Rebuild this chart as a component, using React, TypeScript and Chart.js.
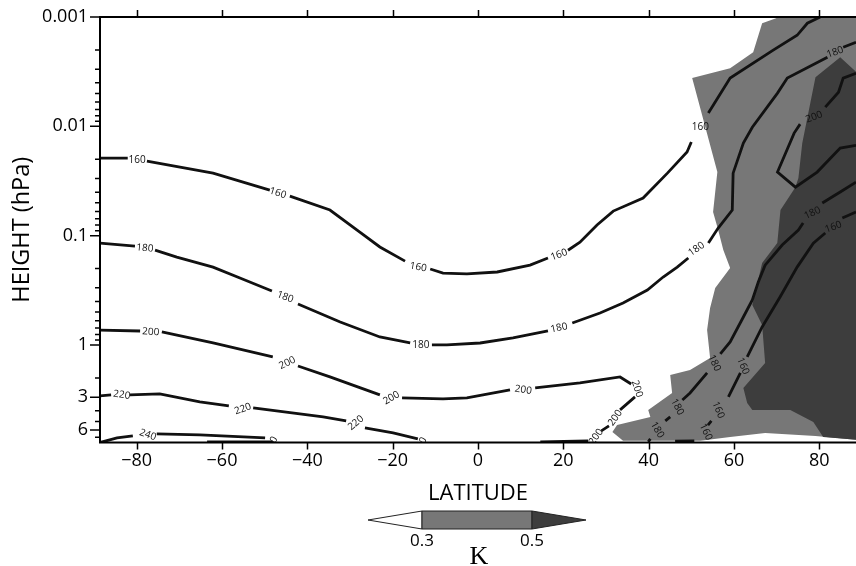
import React, { useEffect, useRef } from "react";
import { Chart, registerables } from "chart.js";

Chart.register(...registerables);

// ---------------- axes ----------------
const LAT_MIN = -88.6;
const LAT_MAX = 88.6;
const P_TOP = 0.001;
const P_BOTTOM = 7.8;
const X_TICKS = [-80, -60, -40, -20, 0, 20, 40, 60, 80];
const Y_TICKS = [0.001, 0.01, 0.1, 1, 3, 6];
const Y_MINOR = [
  0.002, 0.003, 0.004, 0.005, 0.006, 0.007, 0.008, 0.009,
  0.02, 0.03, 0.04, 0.05, 0.06, 0.07, 0.08, 0.09,
  0.2, 0.3, 0.4, 0.5, 0.6, 0.7, 0.8, 0.9,
  2, 4, 5, 7,
];
const CBAR_LEVELS = [0.3, 0.5];
const CBAR_UNIT = "K";
const X_TITLE = "LATITUDE";
const Y_TITLE = "HEIGHT (hPa)";

// ---------------- contour lines: [latitude, hPa], null = label gap ----------------
type P = [number, number] | null;

const T160_MAIN: P[] = [
  [-88.6, 0.0195], [-82.1, 0.0195], null, [-77.6, 0.0208], [-62.1, 0.0268], [-48.8, 0.0383], null,
  [-44.1, 0.0435], [-34.7, 0.0583], [-27.7, 0.0927], [-23.0, 0.127], [-17.1, 0.171], null,
  [-11.2, 0.202], [-8.2, 0.22], [-2.6, 0.224], [4.5, 0.215], [12.2, 0.186], [16.4, 0.16], null,
  [21.1, 0.136], [23.9, 0.115], [27.9, 0.08], [31.7, 0.0596], [38.7, 0.0453], [44.4, 0.0268],
  [49.0, 0.0172], [50.0, 0.0139], null, [54.0, 0.00757], [59.1, 0.00362], [69.2, 0.00201],
  [74.8, 0.00147], [77.2, 0.00114], [80.2, 0.001],
];
const T160_EAST: P[] = [
  [88.6, 0.0608], [85.4, 0.069], null, [81.4, 0.0946], [78.6, 0.117], [74.8, 0.194], [70.8, 0.364],
  [66.6, 0.684], [63.1, 1.287], null, [61.5, 1.803], [58.7, 2.987], null, [54.7, 4.952], [53.9, 5.4], null,
  [50.7, 7.54], [46.2, 7.6],
];
const T180_MAIN: P[] = [
  [-88.6, 0.117], [-80.4, 0.1245], null, [-75.7, 0.1355], [-70.6, 0.157], [-62.1, 0.194], [-55.8, 0.244],
  [-48.3, 0.321], null, [-42.2, 0.422], [-32.3, 0.616], [-23.0, 0.845], [-15.9, 0.959], null,
  [-10.8, 1.0], [-7.3, 1.0], [0.5, 0.959], [8.2, 0.863], [16.4, 0.745], null, [22.1, 0.629],
  [28.6, 0.51], [34.0, 0.413], [39.7, 0.314], [43.4, 0.239], [46.7, 0.194], [49.3, 0.16], null,
  [54.0, 0.117], [56.3, 0.0853], [59.6, 0.0583], [59.8, 0.0268], [62.2, 0.01425], [64.3, 0.0102],
  [70.2, 0.00497], [72.5, 0.00362], [81.9, 0.00233], null, [85.6, 0.00189], [88.6, 0.0017],
];
const T180_EAST: P[] = [
  [88.6, 0.0324], [84.9, 0.0399], [80.7, 0.0503], null, [76.2, 0.0767], [75.1, 0.0889], [71.3, 0.122],
  [67.3, 0.186], [65.7, 0.2655], [64.3, 0.388], [62.2, 0.555], [59.1, 0.939], [56.8, 1.209], null,
  [53.7, 1.803], [49.7, 2.747], [47.9, 3.183], null, [45.05, 4.55], [43.9, 4.95], null,
  [40.4, 7.23], [39.9, 7.7],
];
const T200_MAIN: P[] = [
  [-88.6, 0.73], [-79.2, 0.745], null, [-74.1, 0.76], [-62.1, 0.959], [-48.1, 1.287], null,
  [-42.2, 1.556], [-34.7, 1.961], [-23.0, 2.864], null, [-17.8, 3.051], [-8.2, 3.116], [-2.6, 3.051],
  [7.5, 2.578], null, [13.4, 2.472], [23.9, 2.225], [33.3, 1.961], [35.9, 2.273], null,
  [36.8, 2.987], [33.3, 3.928], null, [30.7, 5.5], [28.9, 6.1], null, [25.8, 7.54], [14.6, 7.7],
];
const T200_LOOP: P[] = [
  [88.6, 0.00327], [85.6, 0.00362], [84.5, 0.00487], [81.4, 0.00668], null, [75.5, 0.00955],
  [74.1, 0.01153], [70.2, 0.0262], [74.4, 0.036], [79.5, 0.0262], [84.9, 0.0158], [88.6, 0.0149],
];
const T220: P[] = [
  [-88.6, 2.925], [-86.0, 2.864], null, [-81.6, 2.864], [-74.6, 2.805], [-65.2, 3.319], [-58.4, 3.611],
  null, [-52.7, 3.766], [-36.3, 4.551], [-30.9, 4.952], null, [-26.5, 5.737], [-19.9, 6.374],
  [-14.1, 7.232],
];
const T240: P[] = [
  [-88.6, 7.8], [-84.6, 7.081], [-80.9, 6.788], null, [-75.3, 6.509], [-65.2, 6.647], [-49.9, 7.081],
  null, [-48.1, 7.7], [-63.5, 7.7],
];
const CONTOURS: P[][] = [T160_MAIN, T160_EAST, T180_MAIN, T180_EAST, T200_MAIN, T200_LOOP, T220, T240];

// contour labels: [text, latitude, hPa, angle in degrees]
const CONTOUR_LABELS: [string, number, number, number][] = [
  ["160", -79.9, 0.0204, 0], ["160", -46.9, 0.0408, 17], ["160", -14.0, 0.194, 10],
  ["160", 19.0, 0.15, -20], ["160", 52.1, 0.0102, 0], ["160", 83.3, 0.0834, -20],
  ["160", 62.1, 1.556, 68], ["160", 56.3, 3.93, 68], ["160", 53.4, 6.24, 65],
  ["180", -78.1, 0.13, 5], ["180", -45.2, 0.364, 20], ["180", -13.4, 1.0, 0],
  ["180", 19.0, 0.699, -12], ["180", 51.2, 0.1326, -35], ["180", 83.7, 0.0021, -20],
  ["180", 78.4, 0.0621, -25], ["180", 55.4, 1.461, 65], ["180", 46.7, 3.688, 62],
  ["180", 42.0, 5.984, 60],
  ["200", -76.7, 0.76, 3], ["200", -44.7, 1.461, -25], ["200", -20.3, 3.051, -30],
  ["200", 10.6, 2.578, 8], ["200", 37.3, 2.52, 72], ["200", 32.2, 4.65, -55],
  ["200", 27.7, 6.93, -55], ["200", 78.8, 0.00824, -20],
  ["220", -83.5, 2.864, 8], ["220", -55.1, 3.85, -20], ["220", -28.6, 5.164, -40],
  ["220", -13.5, 8.3, -60],
  ["240", -77.4, 6.647, 20], ["240", -48.5, 8.2, -60],
];

// shaded regions: [latitude, hPa]
const SHADE_03: [number, number][] = [
  [66.6, 0.00114], [69.7, 0.00103], [72.0, 0.00095], [88.7, 0.00095], [88.7, 7.385], [79.1, 6.788],
  [67.3, 6.374], [59.1, 6.934], [52.1, 7.5], [34.0, 7.5], [31.5, 6.241], [32.6, 5.386], [40.4, 4.551],
  [39.9, 3.928], [45.5, 2.747], [45.05, 1.88], [49.7, 1.692], [54.4, 1.315], [53.7, 0.73],
  [54.4, 0.459], [55.6, 0.301], [59.1, 0.198], [57.5, 0.1355], [56.3, 0.0889], [55.1, 0.0608],
  [56.1, 0.0262], [50.2, 0.00362], [59.1, 0.00294], [64.5, 0.0021],
];
const SHADE_05: [number, number][] = [
  [88.7, 0.0032], [84.9, 0.00233], [79.1, 0.00355], [76.0, 0.01425], [75.1, 0.0297], [74.4, 0.036],
  [70.9, 0.0583], [70.15, 0.1169], [66.6, 0.1778], [64.3, 0.4306], [66.6, 0.656], [67.3, 1.461],
  [62.2, 2.472], [63.1, 3.39], [64.3, 3.928], [73.2, 3.928], [78.6, 5.057], [80.9, 6.934], [88.7, 7.385],
];

const LIGHT = "#777777";
const DARK = "#3d3d3d";
const SANS = "'Open Sans', 'Noto Sans', sans-serif";

const fmtLat = (v: number) => (v < 0 ? "\u2212" + Math.abs(v) : String(v));

const shadePlugin = {
  id: "shade",
  beforeDatasetsDraw(chart: any) {
    const { ctx, chartArea: a, scales } = chart;
    const x = scales.x, y = scales.y;
    ctx.save();
    ctx.beginPath();
    ctx.rect(a.left, a.top, a.right - a.left, a.bottom - a.top);
    ctx.clip();
    const poly = (pts: [number, number][], color: string) => {
      ctx.beginPath();
      pts.forEach(([la, p], i) => {
        const px = x.getPixelForValue(la);
        const py = y.getPixelForValue(p);
        if (i) ctx.lineTo(px, py);
        else ctx.moveTo(px, py);
      });
      ctx.closePath();
      ctx.fillStyle = color;
      ctx.fill();
    };
    poly(SHADE_03, LIGHT);
    poly(SHADE_05, DARK);
    ctx.restore();
  },
};

const labelPlugin = {
  id: "clabels",
  afterDatasetsDraw(chart: any) {
    const { ctx, chartArea: a, scales } = chart;
    const x = scales.x, y = scales.y;
    ctx.save();
    ctx.beginPath();
    ctx.rect(a.left, a.top, a.right - a.left, a.bottom - a.top);
    ctx.clip();
    ctx.font = `10px ${SANS}`;
    ctx.fillStyle = "#111";
    ctx.textAlign = "center";
    ctx.textBaseline = "middle";
    CONTOUR_LABELS.forEach(([t, la, p, ang]) => {
      ctx.save();
      ctx.translate(x.getPixelForValue(la), y.getPixelForValue(p));
      ctx.rotate((ang * Math.PI) / 180);
      ctx.fillText(t, 0, 0);
      ctx.restore();
    });
    ctx.restore();
  },
};

const decorPlugin = {
  id: "decor",
  afterDraw(chart: any) {
    const { ctx, chartArea: a, scales } = chart;
    const x = scales.x, y = scales.y;
    ctx.save();
    ctx.strokeStyle = "#000";
    ctx.lineWidth = 2;
    ctx.beginPath();
    ctx.moveTo(a.left, a.top);
    ctx.lineTo(a.right, a.top);
    ctx.moveTo(a.left, a.top - 1);
    ctx.lineTo(a.left, a.bottom + 1);
    ctx.moveTo(a.left, a.bottom);
    ctx.lineTo(a.right, a.bottom);
    ctx.stroke();
    ctx.lineWidth = 1.5;
    ctx.beginPath();
    X_TICKS.forEach((v) => {
      const px = Math.round(x.getPixelForValue(v)) + 0.5;
      ctx.moveTo(px, a.bottom);
      ctx.lineTo(px, a.bottom + 7);
      ctx.moveTo(px, a.top);
      ctx.lineTo(px, a.top - 7);
    });
    Y_TICKS.forEach((v) => {
      const py = y.getPixelForValue(v);
      ctx.moveTo(a.left, py);
      ctx.lineTo(a.left - 10, py);
    });
    Y_MINOR.forEach((v) => {
      const py = y.getPixelForValue(v);
      ctx.moveTo(a.left, py);
      ctx.lineTo(a.left - 5, py);
    });
    ctx.stroke();

    // colour bar
    const cx = x.getPixelForValue(0) - 1;
    const bw = 110, bh = 18, tri = 54, top = 511;
    const l = cx - bw / 2, r = cx + bw / 2, mid = top + bh / 2;
    ctx.lineWidth = 1;
    ctx.strokeStyle = "#222";
    ctx.beginPath();
    ctx.moveTo(l - tri, mid);
    ctx.lineTo(l, top);
    ctx.lineTo(l, top + bh);
    ctx.closePath();
    ctx.fillStyle = "#ffffff";
    ctx.fill();
    ctx.stroke();
    ctx.beginPath();
    ctx.rect(l, top, bw, bh);
    ctx.fillStyle = LIGHT;
    ctx.fill();
    ctx.stroke();
    ctx.beginPath();
    ctx.moveTo(r, top);
    ctx.lineTo(r + tri, mid);
    ctx.lineTo(r, top + bh);
    ctx.closePath();
    ctx.fillStyle = DARK;
    ctx.fill();
    ctx.stroke();
    ctx.fillStyle = "#000";
    ctx.textAlign = "center";
    ctx.textBaseline = "middle";
    ctx.font = `17px ${SANS}`;
    ctx.fillText(String(CBAR_LEVELS[0]), l, 541);
    ctx.fillText(String(CBAR_LEVELS[1]), r, 541);
    ctx.font = "26px 'Liberation Serif', 'DejaVu Serif', serif";
    ctx.fillText(CBAR_UNIT, cx + 2, 557);
    ctx.restore();
  },
};

export default function App() {
  const ref = useRef<HTMLCanvasElement | null>(null);
  useEffect(() => {
    if (!ref.current) return;
    const datasets = CONTOURS.map((line) => ({
      data: line.map((pt) => (pt ? { x: pt[0], y: pt[1] } : { x: null as any, y: null as any })),
      showLine: true,
      borderColor: "#111",
      borderWidth: 2.8,
      pointRadius: 0,
      pointHoverRadius: 0,
      spanGaps: false,
      tension: 0,
      fill: false,
    }));
    const chart = new Chart(ref.current, {
      type: "scatter",
      data: { datasets },
      options: {
        animation: false,
        responsive: false,
        devicePixelRatio: 1,
        events: [],
        layout: { padding: { left: 0, top: 17, right: 0, bottom: 0 } },
        plugins: { legend: { display: false }, tooltip: { enabled: false } },
        scales: {
          x: {
            type: "linear",
            position: "bottom",
            min: LAT_MIN,
            max: LAT_MAX,
            grid: { display: false, drawTicks: false },
            border: { display: false },
            ticks: {
              padding: 8,
              color: "#000",
              autoSkip: false,
              maxRotation: 0,
              font: { family: SANS, size: 18 },
              callback: (v: any) => fmtLat(Number(v)),
            },
            afterBuildTicks: (s: any) => {
              s.ticks = X_TICKS.map((value) => ({ value }));
            },
            afterFit: (s: any) => {
              s.height = 123.5;
              s.paddingLeft = 0;
              s.paddingRight = 0;
            },
            title: {
              display: true,
              text: X_TITLE,
              color: "#000",
              font: { family: SANS, size: 22 },
              padding: { top: 0, bottom: 59 },
            },
          },
          y: {
            type: "logarithmic",
            position: "left",
            reverse: true,
            min: P_TOP,
            max: P_BOTTOM,
            grid: { display: false, drawTicks: false },
            border: { display: false },
            ticks: {
              padding: 12,
              color: "#000",
              autoSkip: false,
              font: { family: SANS, size: 18 },
              callback: (v: any) => String(v),
            },
            afterBuildTicks: (s: any) => {
              s.ticks = Y_TICKS.map((value) => ({ value }));
            },
            afterFit: (s: any) => {
              s.width = 100;
              s.paddingTop = 0;
              s.paddingBottom = 0;
            },
            title: {
              display: true,
              text: Y_TITLE,
              color: "#000",
              font: { family: SANS, size: 23.5 },
              padding: { top: 8, bottom: 0 },
            },
          },
        },
      },
      plugins: [shadePlugin, labelPlugin, decorPlugin],
    } as any);
    return () => chart.destroy();
  }, []);
  return (
    <div style={{ position: "absolute", left: 0, top: 0, width: 856, height: 566, background: "#fff" }}>
      <canvas ref={ref} width={856} height={566} style={{ display: "block" }} />
    </div>
  );
}
